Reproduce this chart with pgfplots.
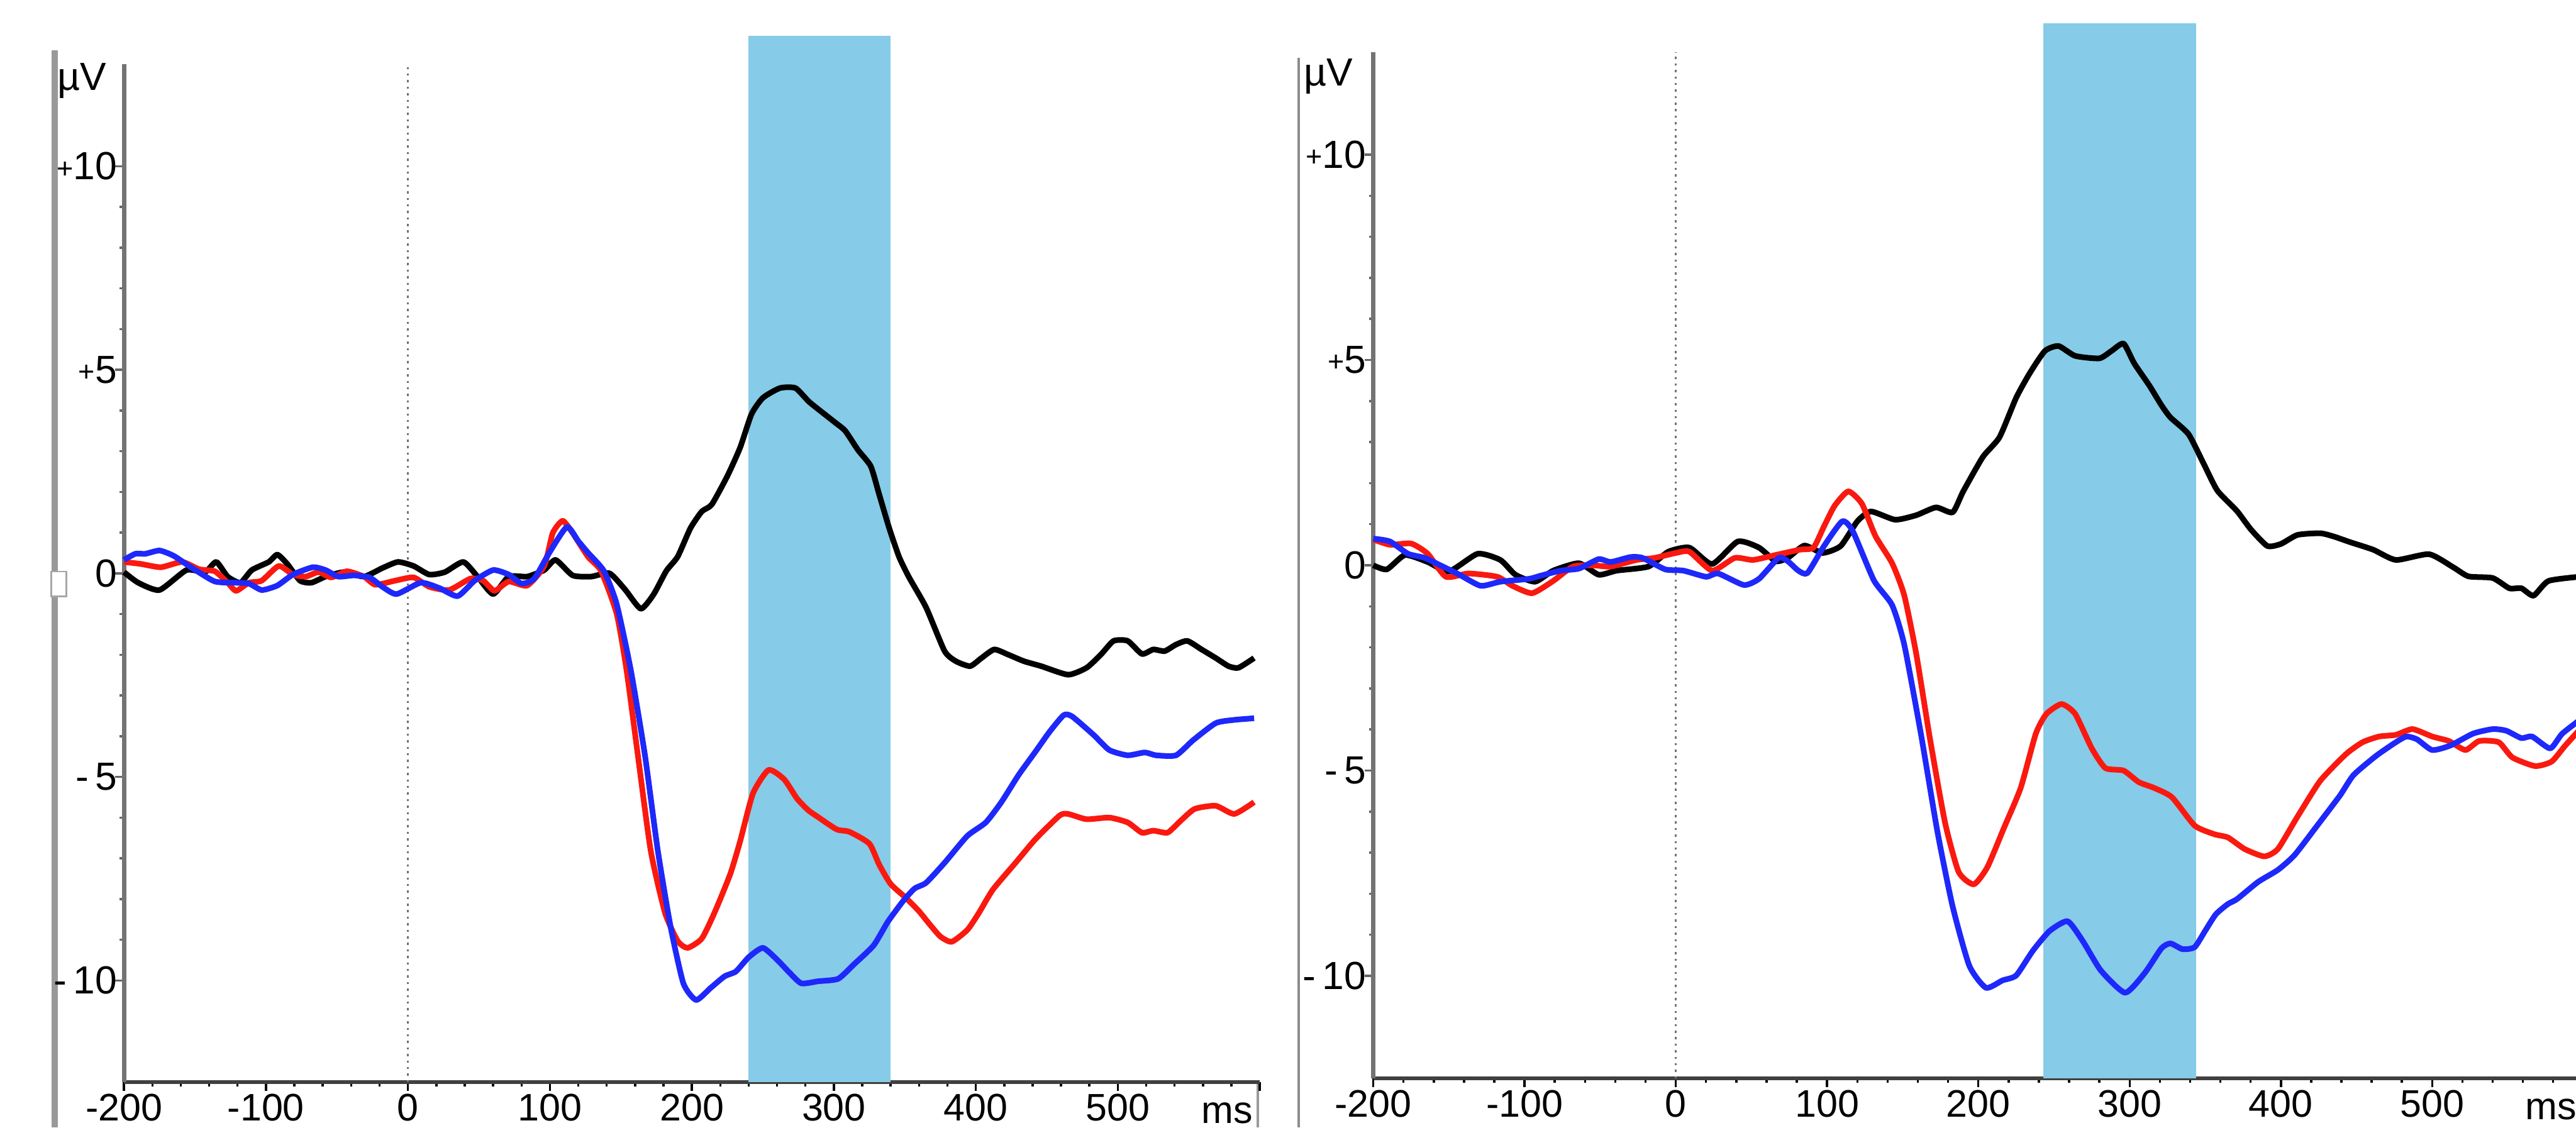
\documentclass[border=0pt]{standalone}
\usepackage{pgfplots}
\pgfplotsset{compat=1.18}
\usepackage{fontspec}
\setmainfont{Liberation Sans}
\definecolor{band}{RGB}{134,203,232}
\definecolor{ered}{RGB}{250,25,15}
\definecolor{eblue}{RGB}{30,40,250}
\newcommand{\pl}{{\fontsize{6.5}{6}\selectfont\raisebox{0.06em}{+}}}
\pgfplotsset{
  erpaxis/.style={
    scale only axis,
    xmin=-200, xmax=600, ymin=-12.5, ymax=12.5,
    clip=false,
    axis x line*=bottom, axis y line*=left,
    x axis line style={line width=0.9pt, black!75},
    y axis line style={line width=1pt, black!55},
    tick align=outside,
    major tick length=0.07cm, minor tick length=0.035cm,
    xtick={-200,-100,...,600},
    xticklabels={-200,-100,0,100,200,300,400,500,},
    minor x tick num=4,
    ytick={-10,-5,0,5,10},
    yticklabels={-\,10,-\,5,0,\pl5,\pl10},
    minor y tick num=4,
    x tick style={black, line width=0.5pt},
    y tick style={black!60, line width=0.5pt},
    xticklabel style={font=\fontsize{8.8}{10}\selectfont, anchor=north, inner sep=0pt, yshift=-0.02cm},
    yticklabel style={font=\fontsize{9}{10}\selectfont, anchor=east, inner sep=0pt, xshift=0.02cm},
  },
  erp/.style={line width=1.3pt, smooth, tension=0.35, line join=round},
}
\begin{document}
\begin{tikzpicture}
% outer frame decorations
\fill[black!40] (0.415,0) rectangle (0.465,8.69);
\draw[black!35, fill=white] (0.415,4.285) rectangle (0.535,4.485);
\draw[black!45, line width=0.6pt] (10.475,0) -- (10.475,8.63);
\draw[black!40, line width=0.5pt] (10.145,0) -- (10.145,0.38);

%================ LEFT PANEL =================
\begin{axis}[erpaxis, width=9.16cm, height=8.21cm, at={(1.0cm,0.365cm)}, anchor=south west]
\addplot[draw=none, fill=band] coordinates {(240,-12.5) (340,-12.5) (340,13.2) (240,13.2)} -- cycle;
\addplot[black!55, densely dotted, line width=0.5pt] coordinates {(0,-12.5) (0,12.5)};
% black
\addplot[erp, black] coordinates {
(-200,0.03)(-190,-0.23)(-175,-0.41)(-156,0.08)(-143,0.03)(-135,0.28)(-127,-0.08)(-118,-0.23)
(-110,0.08)(-98,0.28)(-92,0.46)(-85,0.23)(-76,-0.18)(-68,-0.23)(-58,-0.08)(-45,0.03)(-31,-0.08)
(-18,0.13)(-7,0.28)(4,0.18)(15,-0.03)(26,0.03)(39,0.28)(49,-0.08)(60,-0.51)(71,-0.08)(84,-0.08)
(96,0.08)(104,0.33)(116,-0.05)(129,-0.08)(142,0.0)(153,-0.4)(164,-0.87)(173,-0.52)(182,0.06)
(190,0.41)(199,1.11)(207,1.52)(214,1.69)(225,2.39)(234,3.09)(242,3.91)(250,4.31)(262,4.55)
(273,4.55)(283,4.20)(300,3.73)(308,3.50)(317,3.03)(326,2.63)(332,1.93)(339,1.11)(346,0.4)
(353,-0.1)(365,-0.84)(378,-1.91)(386,-2.16)(396,-2.28)(404,-2.08)(413,-1.87)(423,-2.0)(434,-2.16)
(446,-2.28)(465,-2.49)(478,-2.32)(488,-2.0)(497,-1.66)(507,-1.66)(517,-1.98)(525,-1.87)(533,-1.91)
(541,-1.75)(549,-1.66)(559,-1.87)(569,-2.08)(578,-2.28)(585,-2.32)(596,-2.08)};
% red
\addplot[erp, ered] coordinates {
(-200,0.28)(-188,0.23)(-174,0.15)(-159,0.28)(-147,0.10)(-136,0.05)(-127,-0.23)(-121,-0.43)
(-112,-0.23)(-103,-0.18)(-91,0.18)(-81,-0.03)(-72,-0.08)(-63,0.03)(-54,-0.10)(-43,0.05)(-31,-0.08)
(-23,-0.28)(-9,-0.18)(4,-0.10)(15,-0.33)(29,-0.41)(44,-0.13)(53,-0.18)(61,-0.43)(71,-0.20)(84,-0.30)
(96,0.18)(102,0.99)(109,1.29)(116,0.99)(127,0.40)(136,0.06)(147,-0.99)(154,-2.38)(162,-4.48)
(171,-6.81)(181,-8.33)(190,-9.03)(197,-9.20)(207,-8.97)(216,-8.33)(227,-7.39)(234,-6.58)(243,-5.41)
(254,-4.83)(265,-5.06)(274,-5.53)(282,-5.82)(289,-5.99)(302,-6.29)(311,-6.35)(325,-6.64)(332,-7.16)
(340,-7.63)(351,-7.98)(360,-8.3)(367,-8.6)(375,-8.92)(383,-9.05)(394,-8.76)(402,-8.35)(412,-7.77)
(428,-7.11)(442,-6.53)(459,-5.95)(465,-5.91)(478,-6.04)(494,-6.0)(507,-6.12)(517,-6.37)(525,-6.32)
(535,-6.37)(543,-6.12)(554,-5.79)(569,-5.71)(582,-5.91)(596,-5.62)};
% blue
\addplot[erp, eblue] coordinates {
(-200,0.33)(-192,0.48)(-185,0.48)(-175,0.56)(-165,0.43)(-152,0.13)(-136,-0.20)(-121,-0.23)
(-112,-0.25)(-103,-0.41)(-92,-0.30)(-81,-0.03)(-67,0.15)(-58,0.08)(-49,-0.08)(-38,-0.05)(-27,-0.10)
(-18,-0.33)(-8,-0.51)(9,-0.23)(22,-0.36)(35,-0.56)(47,-0.18)(60,0.08)(71,-0.03)(80,-0.25)(89,-0.13)
(100,0.53)(112,1.14)(120,0.79)(127,0.50)(138,0.06)(147,-0.75)(157,-2.38)(167,-4.48)(176,-6.81)
(185,-8.68)(194,-10.07)(203,-10.48)(213,-10.19)(223,-9.90)(231,-9.78)(240,-9.43)(250,-9.20)
(260,-9.49)(268,-9.78)(277,-10.07)(289,-10.02)(303,-9.96)(314,-9.61)(328,-9.14)(338,-8.56)
(349,-8.04)(357,-7.74)(365,-7.60)(378,-7.11)(394,-6.45)(407,-6.12)(418,-5.62)(430,-4.96)(442,-4.38)
(452,-3.89)(462,-3.48)(468,-3.52)(483,-3.97)(494,-4.34)(507,-4.47)(519,-4.40)(527,-4.47)(541,-4.47)
(553,-4.10)(569,-3.68)(582,-3.60)(596,-3.56)};
\node[anchor=base east, font=\fontsize{8.8}{10}\selectfont, inner sep=0pt] at (axis cs:600,-12.5) [yshift=-0.33cm, xshift=-0.05cm] {ms};
\node[anchor=east, font=\fontsize{9}{10}\selectfont, inner sep=0pt] at (axis cs:-200,12.1) [xshift=-0.135cm] {µV};
\end{axis}

%================ RIGHT PANEL =================
\begin{axis}[erpaxis, width=9.76cm, height=8.28cm, at={(11.075cm,0.395cm)}, anchor=south west]
\addplot[draw=none, fill=band] coordinates {(243,-12.5) (344,-12.5) (344,13.2) (243,13.2)} -- cycle;
\addplot[black!55, densely dotted, line width=0.5pt] coordinates {(0,-12.5) (0,12.5)};
% black
\addplot[erp, black] coordinates {
(-200,0.0)(-191,-0.1)(-179,0.25)(-164,0.08)(-150,-0.15)(-131,0.28)(-116,0.13)(-106,-0.23)(-93,-0.40)
(-81,-0.13)(-64,0.05)(-51,-0.23)(-39,-0.13)(-18,-0.03)(-5,0.33)(9,0.43)(24,0.03)(41,0.58)(55,0.43)
(66,0.10)(74,0.18)(85,0.48)(97,0.30)(109,0.47)(120,1.07)(129,1.31)(145,1.11)(159,1.22)(172,1.41)
(183,1.29)(190,1.80)(203,2.64)(214,3.12)(225,4.08)(234,4.68)(244,5.22)(253,5.34)(264,5.10)(280,5.04)
(288,5.22)(296,5.40)(303,4.92)(313,4.38)(321,3.90)(327,3.60)(339,3.19)(349,2.47)(358,1.82)(371,1.32)
(380,0.88)(391,0.47)(400,0.52)(411,0.74)(426,0.78)(435,0.70)(446,0.56)(461,0.38)(476,0.13)(498,0.27)
(514,-0.05)(524,-0.27)(540,-0.31)(551,-0.56)(559,-0.56)(567,-0.74)(577,-0.38)(600,-0.27)};
% red
\addplot[erp, ered] coordinates {
(-200,0.63)(-189,0.50)(-175,0.53)(-164,0.28)(-152,-0.28)(-137,-0.20)(-118,-0.28)(-108,-0.50)(-95,-0.68)
(-81,-0.38)(-68,-0.03)(-55,0.0)(-43,-0.03)(-26,0.13)(-14,0.18)(0,0.30)(9,0.33)(24,-0.13)(39,0.18)
(51,0.13)(66,0.25)(82,0.38)(91,0.43)(98,0.95)(105,1.45)(114,1.80)(123,1.50)(132,0.71)(143,0.05)
(151,-0.73)(159,-2.17)(168,-4.22)(178,-6.27)(187,-7.47)(197,-7.77)(206,-7.35)(217,-6.39)(228,-5.42)
(238,-4.10)(245,-3.62)(255,-3.38)(264,-3.62)(275,-4.46)(284,-4.94)(296,-5.00)(306,-5.28)(316,-5.42)
(328,-5.65)(343,-6.34)(356,-6.55)(365,-6.63)(376,-6.91)(389,-7.09)(398,-6.91)(411,-6.12)(426,-5.25)
(443,-4.60)(454,-4.31)(465,-4.17)(476,-4.13)(487,-3.99)(500,-4.17)(511,-4.28)(522,-4.50)(531,-4.28)
(544,-4.31)(553,-4.68)(568,-4.89)(579,-4.78)(588,-4.39)(600,-3.9)};
% blue
\addplot[erp, eblue] coordinates {
(-200,0.65)(-189,0.58)(-177,0.28)(-166,0.18)(-154,-0.03)(-143,-0.23)(-129,-0.50)(-116,-0.40)(-97,-0.33)
(-89,-0.25)(-76,-0.13)(-64,-0.08)(-51,0.15)(-43,0.08)(-30,0.20)(-22,0.18)(-7,-0.10)(5,-0.13)(20,-0.28)
(28,-0.20)(45,-0.48)(55,-0.33)(68,0.18)(74,0.10)(81,-0.13)(87,-0.19)(98,0.47)(110,1.07)(117,0.83)
(131,-0.37)(143,-0.97)(151,-1.93)(162,-4.10)(173,-6.50)(183,-8.31)(194,-9.75)(205,-10.29)(216,-10.11)
(225,-9.99)(236,-9.39)(247,-8.91)(259,-8.67)(269,-9.15)(281,-9.87)(297,-10.41)(310,-9.93)(321,-9.33)
(327,-9.21)(335,-9.35)(343,-9.3)(350,-8.9)(357,-8.5)(365,-8.25)(371,-8.13)(385,-7.71)(398,-7.42)
(409,-7.06)(424,-6.34)(439,-5.61)(448,-5.11)(463,-4.64)(476,-4.31)(483,-4.17)(490,-4.24)(500,-4.50)
(512,-4.39)(527,-4.10)(540,-3.99)(549,-4.03)(559,-4.21)(566,-4.17)(578,-4.46)(586,-4.10)(600,-3.7)};
\node[anchor=base east, font=\fontsize{8.8}{10}\selectfont, inner sep=0pt] at (axis cs:600,-12.5) [yshift=-0.33cm, xshift=-0.05cm] {ms};
\node[anchor=east, font=\fontsize{9}{10}\selectfont, inner sep=0pt] at (axis cs:-200,11.9) [xshift=-0.16cm] {µV};
\end{axis}
\pgfresetboundingbox
\path[use as bounding box] (0,0) rectangle (20.775,9.095);
\end{tikzpicture}
\end{document}
